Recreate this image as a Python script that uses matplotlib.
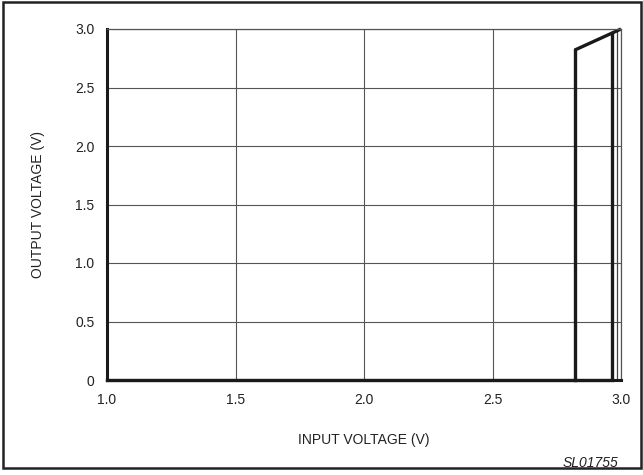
import matplotlib
matplotlib.use("Agg")
import matplotlib.pyplot as plt
from matplotlib.patches import Rectangle

plt.rcParams['font.family'] = ['Liberation Sans', 'DejaVu Sans']

# Data: hysteresis transfer curve
trace_x = [1.0, 2.965, 2.965, 2.965]
trace_y = [0.0, 0.0, 2.97, 2.97]
rise_x = [2.82, 2.82, 2.82]
rise_y = [0.0, 2.82, 2.82]
slope_x = [2.82, 3.0]
slope_y = [2.82, 3.0]
thin_x = [2.965, 2.985, 2.985]
thin_y = [0.0, 0.0, 2.99]

xticks = [1.0, 1.5, 2.0, 2.5, 3.0]
xticklabels = ["1.0", "1.5", "2.0", "2.5", "3.0"]
yticks = [0, 0.5, 1.0, 1.5, 2.0, 2.5, 3.0]
yticklabels = ["0", "0.5", "1.0", "1.5", "2.0", "2.5", "3.0"]

fig = plt.figure(figsize=(6.43, 4.75), dpi=100)
ax = fig.add_axes([107/643, 1-380/475, (621-107)/643, (380-29)/475])

ax.set_xlim(1.0, 3.0)
ax.set_ylim(0, 3.0)
ax.set_xticks(xticks)
ax.set_xticklabels(xticklabels)
ax.set_yticks(yticks)
ax.set_yticklabels(yticklabels)
ax.tick_params(length=0, labelsize=10, colors='#222222', pad=9)
ax.grid(True, color='#555555', linewidth=0.8)
ax.set_axisbelow(True)

for s in ['top', 'right']:
    ax.spines[s].set_color('#555555')
    ax.spines[s].set_linewidth(0.9)
ax.spines['left'].set_linewidth(2.2)
ax.spines['left'].set_color('#1a1a1a')
ax.spines['bottom'].set_linewidth(2.2)
ax.spines['bottom'].set_color('#1a1a1a')

lw = 2.4
ax.plot(thin_x, thin_y, color='#444444', lw=0.9, clip_on=False, solid_capstyle='butt')
ax.plot(trace_x, trace_y, color='#1a1a1a', lw=lw, clip_on=False, solid_joinstyle='miter')
ax.plot(rise_x, rise_y, color='#1a1a1a', lw=lw, clip_on=False, solid_joinstyle='miter')
ax.plot(slope_x, slope_y, color='#1a1a1a', lw=lw, clip_on=False, solid_capstyle='butt')

ax.set_ylabel("OUTPUT VOLTAGE (V)", fontsize=10, color='#222222', labelpad=22)
ax.set_xlabel("INPUT VOLTAGE (V)", fontsize=10, color='#222222', labelpad=19)

fig.text(618/643, 1-463/475, "SL01755", fontsize=10, style='italic',
         ha='right', va='center', color='#222222')

fig.patches.append(Rectangle((3/643, 7/475), 638/643, 466/475, transform=fig.transFigure,
                             fill=False, edgecolor='#222222', linewidth=1.8))

fig.savefig("out.png", dpi=100)
